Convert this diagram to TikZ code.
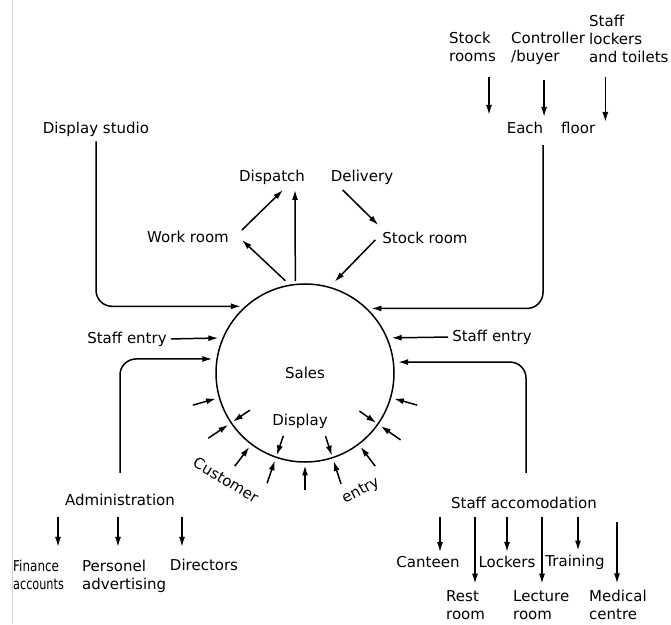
\documentclass[tikz,border=0pt]{standalone}
\usepackage{fontspec}
\setmainfont{DejaVu Sans}
\usetikzlibrary{arrows.meta,calc}
\begin{document}
\begin{tikzpicture}[x=1pt,y=1pt,
  every node/.style={font=\fontsize{15}{18}\selectfont, inner sep=1pt},
  lab/.style={align=left},
  arr/.style={line width=1.5pt, -{Latex[length=10pt,width=6pt]}},
  conn/.style={arr, rounded corners=16pt, shorten >=4pt},
]
\useasboundingbox (0,0) rectangle (671,624);
\draw[gray!35, line width=1pt] (12.5,0) -- (12.5,624);

% central circle
\node[circle, draw, line width=1.5pt, minimum size=178pt, inner sep=0] (sales) at (305,251) {Sales};
\node (display) at (300,203) {Display};
\node[rotate=-31] (customer) at (226,144) {Customer};
\node[rotate=28] (entry) at (361,133) {entry};

% customer entry arrows
\foreach \a in {196,214.5,233,251.5,270,288.5,307,325.5,344}
  \draw[arr] ($(sales.center)!1.3!(sales.\a)$) -- ($(sales.center)!1.03!(sales.\a)$);
\foreach \a in {214.5,251.5,288.5,325.5}
  \draw[arr] ($(sales.center)!0.74!(sales.\a)$) -- ($(sales.center)!0.97!(sales.\a)$);

% upper middle
\node (dispatch) at (272,447) {Dispatch};
\node (delivery) at (362,447) {Delivery};
\node (workroom) at (188,387) {Work room};
\node (stockroom) at (425,386) {Stock room};
\draw[arr] ([xshift=12pt,yshift=7pt]workroom.east) -- ([xshift=11pt,yshift=-4.5pt]dispatch.south);
\draw[arr] ($(sales.center)!1.05!(sales.102.4)$) -- ([xshift=12pt,yshift=-3pt]workroom.east);
\draw[arr] ($(sales.center)!1.03!(sales.96.5)$) -- ([xshift=23pt,yshift=-4.5pt]dispatch.south);
\draw[arr] ([xshift=13pt,yshift=-4.5pt]delivery.south west) -- ([xshift=-3pt,yshift=6pt]stockroom.north west);
\draw[arr] ([xshift=-6pt,yshift=-2pt]stockroom.west) -- ($(sales.center)!1.07!(sales.72)$);

% display studio
\node (studio) at (96,495) {Display studio};
\draw[conn] ([yshift=-4pt]studio.south) |- (sales.132);

% staff entries
\node (staffL) at (127,285) {Staff entry};
\draw[arr, shorten <=3pt, shorten >=4pt] (staffL.east) -- (sales.157.5);
\node (staffR) at (492,287) {Staff entry};
\draw[arr, shorten <=3pt, shorten >=4pt] (staffR.west) -- (sales.23.9);

% each floor
\node[lab, anchor=west] (stock) at (448,577.5) {Stock\\rooms};
\node[lab, anchor=west] (ctrl) at (510,576) {Controller\\/buyer};
\node[lab, anchor=west] (lock) at (588,585) {Staff\\lockers\\and toilets};
\node (floor) at (551,496) {Each\hspace{18pt}floor};
\draw[arr] ([xshift=16.5pt,yshift=-15pt]stock.south) -- ([xshift=16.5pt,yshift=6pt]stock.south |- floor.north);
\draw[arr] ([xshift=-4pt,yshift=-15pt]ctrl.south) -- ([xshift=-4pt,yshift=4pt]ctrl.south |- floor.north);
\draw[arr] ([xshift=-23.5pt,yshift=-13pt]lock.south) -- ([xshift=-23.5pt,yshift=-1pt]lock.south |- floor.north);
\draw[conn] ([xshift=-8pt,yshift=-10pt]floor.south) |- (sales.46.9);

% administration
\node (admin) at (120,124) {Administration};
\draw[conn] ([yshift=20pt]admin.north) |- (sales.171.6);
\node[lab, anchor=west] (finance) at (12,49.5) {\scalebox{0.8}[1]{Finance}\\\scalebox{0.75}[1]{accounts}};
\node[lab, anchor=west] (personel) at (81,47.7) {Personel\\advertising};
\node (directors) at (204,59) {Directors};
\draw[arr] ([xshift=-62pt,yshift=-10pt]admin.south) -- ([xshift=-62pt,yshift=11pt]admin.south |- directors.north);
\draw[arr] ([xshift=-2pt,yshift=-10pt]admin.south) -- ([xshift=-2pt,yshift=11pt]admin.south |- directors.north);
\draw[arr] ([xshift=62pt,yshift=-10pt]admin.south) -- ([xshift=62pt,yshift=11pt]admin.south |- directors.north);

% staff accomodation
\node (acc) at (524,121) {Staff accomodation};
\draw[conn] ([xshift=2pt,yshift=23pt]acc.north) |- (sales.7.75);
\node (canteen) at (428,62) {Canteen};
\node (lockers) at (507,62) {Lockers};
\node (training) at (575,62) {Training};
\node[lab, anchor=west] (rest) at (445,19) {Rest\\room};
\node[lab, anchor=west] (lecture) at (512,19) {Lecture\\room};
\node[lab, anchor=west] (medical) at (588,19) {Medical\\centre};
\draw[arr] ([xshift=-84pt,yshift=-7pt]acc.south) -- ([xshift=-84pt,yshift=3pt]acc.south |- canteen.north);
\draw[arr] ([xshift=-17pt,yshift=-7pt]acc.south) -- ([xshift=-17pt,yshift=3pt]acc.south |- lockers.north);
\draw[arr] ([xshift=54pt,yshift=-7pt]acc.south) -- ([xshift=54pt,yshift=3pt]acc.south |- training.north);
\draw[arr] ([xshift=-49pt,yshift=-7pt]acc.south) -- ([xshift=-49pt,yshift=5.5pt]acc.south |- rest.north);
\draw[arr] ([xshift=18pt,yshift=-7pt]acc.south) -- ([xshift=18pt,yshift=5.5pt]acc.south |- lecture.north);
\draw[arr] ([xshift=93pt,yshift=-12pt]acc.south) -- ([xshift=93pt,yshift=5.5pt]acc.south |- medical.north);
\end{tikzpicture}
\end{document}
